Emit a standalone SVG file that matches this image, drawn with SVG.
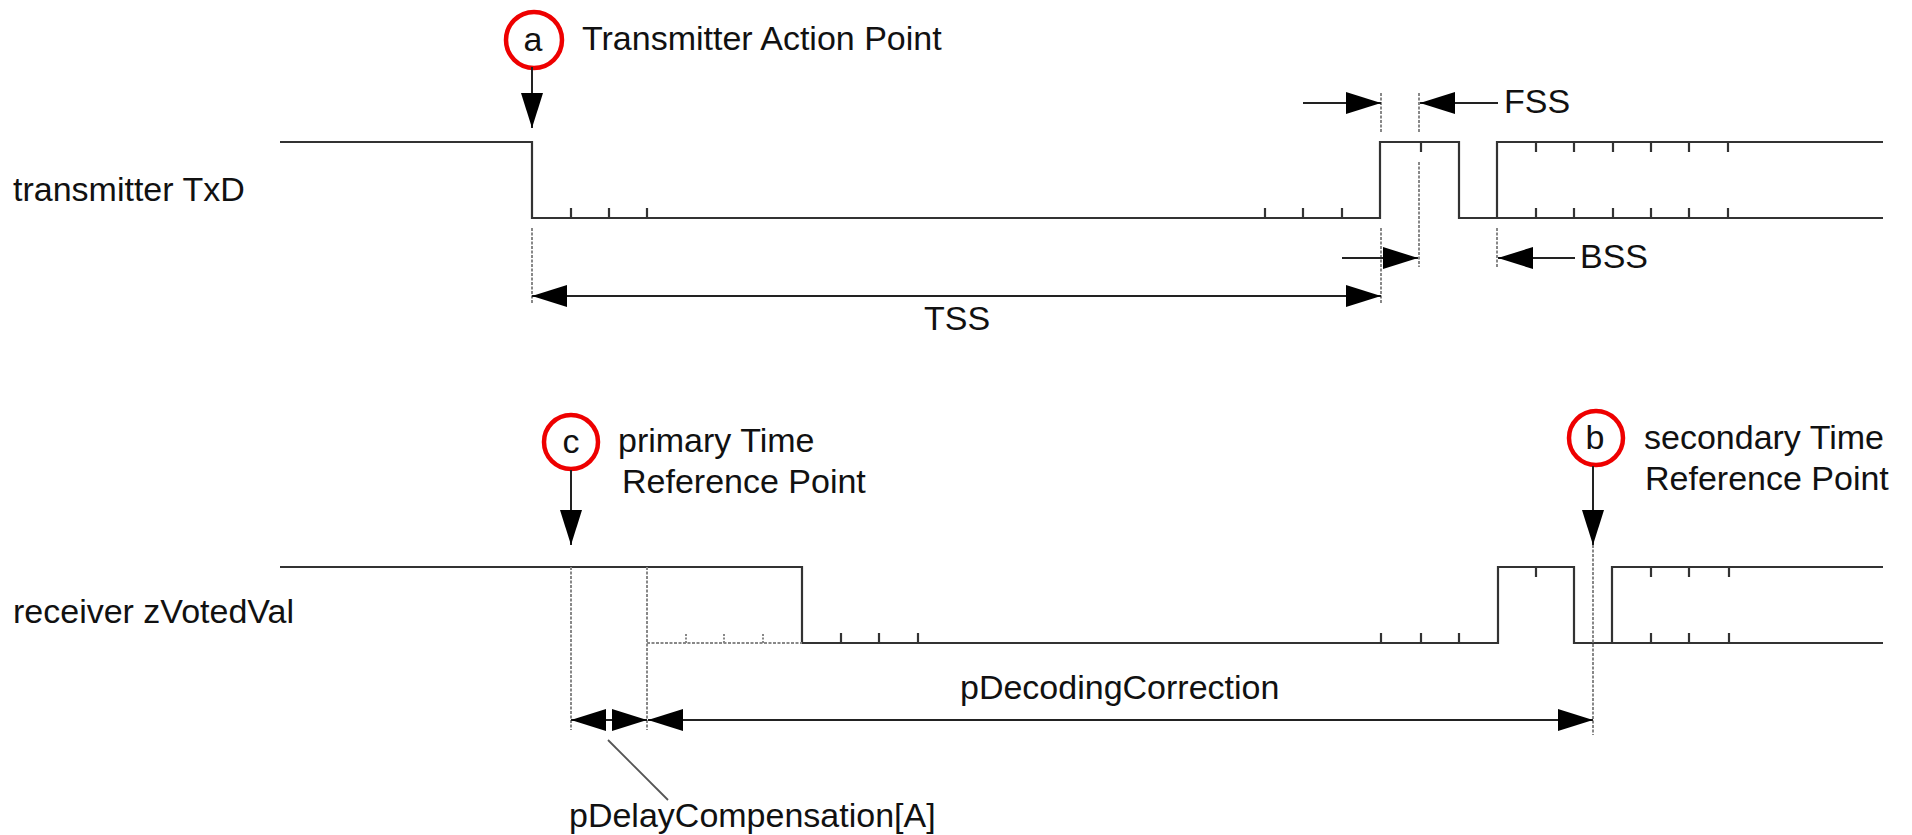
<svg xmlns="http://www.w3.org/2000/svg" width="1912" height="835" viewBox="0 0 1912 835">
<style>
  text { font-family: "Liberation Sans", Arial, sans-serif; font-size: 34px; fill: #111; }
  .sig { fill: none; stroke: #333; stroke-width: 2.2; }
  .tick { stroke: #333; stroke-width: 2.2; }
  .gtick { stroke: #888; stroke-width: 2; stroke-dasharray: 2 1.5; }
  .guide { stroke: #888; stroke-width: 2; stroke-dasharray: 3 1.5; fill: none; }
  .dim { stroke: #222; stroke-width: 2; fill: none; }
  .lead { stroke: #555; stroke-width: 1.8; }
  .mark { fill: none; stroke: #ee0000; stroke-width: 4.5; }
  .ctr { text-anchor: middle; }
</style>
<defs>
  <marker id="ah" markerUnits="userSpaceOnUse" markerWidth="36" markerHeight="24" viewBox="0 0 36 24" refX="35" refY="12" orient="auto-start-reverse">
    <path d="M0,1 L35,12 L0,23 z" fill="#000"/>
  </marker>
</defs>

<g id="labels">
  <text x="13" y="201">transmitter TxD</text>
  <text x="13" y="623">receiver zVotedVal</text>
</g>

<g id="signal-txd">
  <path class="sig" d="M280,142 H532 V218 H1380 V142 H1459 V218 H1497 V142 H1883 M1497,218 H1883"/>
  <path class="tick" d="M571,218v-10 M609,218v-10 M647,218v-10 M1265,218v-10 M1303,218v-10 M1342,218v-10 M1421,142v10 M1536,142v10 M1574,142v10 M1613,142v10 M1651,142v10 M1689,142v10 M1728,142v10 M1536,218v-10 M1574,218v-10 M1613,218v-10 M1651,218v-10 M1689,218v-10 M1728,218v-10"/>
</g>

<g id="signal-rx">
  <path class="sig" d="M280,567 H802 V643 H1498 V567 H1574 V643 H1883 M1612,643 V567 H1883"/>
  <line class="guide" x1="647" y1="643" x2="802" y2="643"/>
  <path class="gtick" d="M686,643v-10 M724,643v-10 M763,643v-10"/>
  <path class="tick" d="M841,643v-10 M879,643v-10 M918,643v-10 M1381,643v-10 M1421,643v-10 M1459,643v-10 M1536,567v10 M1651,567v10 M1689,567v10 M1729,567v10 M1651,643v-10 M1689,643v-10 M1729,643v-10"/>
</g>

<g id="marker-a">
  <circle class="mark" cx="534" cy="40" r="28"/>
  <text class="ctr" x="533" y="51">a</text>
  <text x="582" y="50">Transmitter Action Point</text>
</g>

<g id="marker-c">
  <circle class="mark" cx="571" cy="442" r="27"/>
  <text class="ctr" x="571" y="453">c</text>
  <text x="618" y="452">primary Time</text>
  <text x="622" y="493">Reference Point</text>
</g>

<g id="marker-b">
  <circle class="mark" cx="1596" cy="438" r="27"/>
  <text class="ctr" x="1595" y="449">b</text>
  <text x="1644" y="449">secondary Time</text>
  <text x="1645" y="490">Reference Point</text>
</g>

<g id="guides">
  <line class="guide" x1="532" y1="228" x2="532" y2="303"/>
  <line class="guide" x1="1381" y1="93" x2="1381" y2="132"/>
  <line class="guide" x1="1419" y1="93" x2="1419" y2="132"/>
  <line class="guide" x1="1381" y1="228" x2="1381" y2="303"/>
  <line class="guide" x1="1419" y1="162" x2="1419" y2="267"/>
  <line class="guide" x1="1497" y1="228" x2="1497" y2="267"/>
  <line class="guide" x1="571" y1="567" x2="571" y2="730"/>
  <line class="guide" x1="647" y1="567" x2="647" y2="730"/>
  <line class="guide" x1="1593" y1="545" x2="1593" y2="735"/>
</g>

<g id="connectors">
  <line class="dim" x1="532" y1="67" x2="532" y2="128" marker-end="url(#ah)"/>
  <line class="dim" x1="571" y1="470" x2="571" y2="545" marker-end="url(#ah)"/>
  <line class="dim" x1="1593" y1="466" x2="1593" y2="545" marker-end="url(#ah)"/>
  <line class="dim" x1="532" y1="296" x2="1381" y2="296" marker-start="url(#ah)" marker-end="url(#ah)"/>
  <line class="dim" x1="1303" y1="103" x2="1381" y2="103" marker-end="url(#ah)"/>
  <line class="dim" x1="1498" y1="103" x2="1420" y2="103" marker-end="url(#ah)"/>
  <line class="dim" x1="1342" y1="258" x2="1418" y2="258" marker-end="url(#ah)"/>
  <line class="dim" x1="1575" y1="258" x2="1498" y2="258" marker-end="url(#ah)"/>
  <line class="dim" x1="571" y1="720" x2="647" y2="720" marker-start="url(#ah)" marker-end="url(#ah)"/>
  <line class="dim" x1="648" y1="720" x2="1593" y2="720" marker-start="url(#ah)" marker-end="url(#ah)"/>
  <line class="lead" x1="608" y1="740" x2="668" y2="800"/>
</g>

<g id="dim-labels">
  <text x="1504" y="113">FSS</text>
  <text x="1580" y="268">BSS</text>
  <text x="924" y="330">TSS</text>
  <text x="960" y="699">pDecodingCorrection</text>
  <text x="569" y="827">pDelayCompensation[A]</text>
</g>
</svg>
